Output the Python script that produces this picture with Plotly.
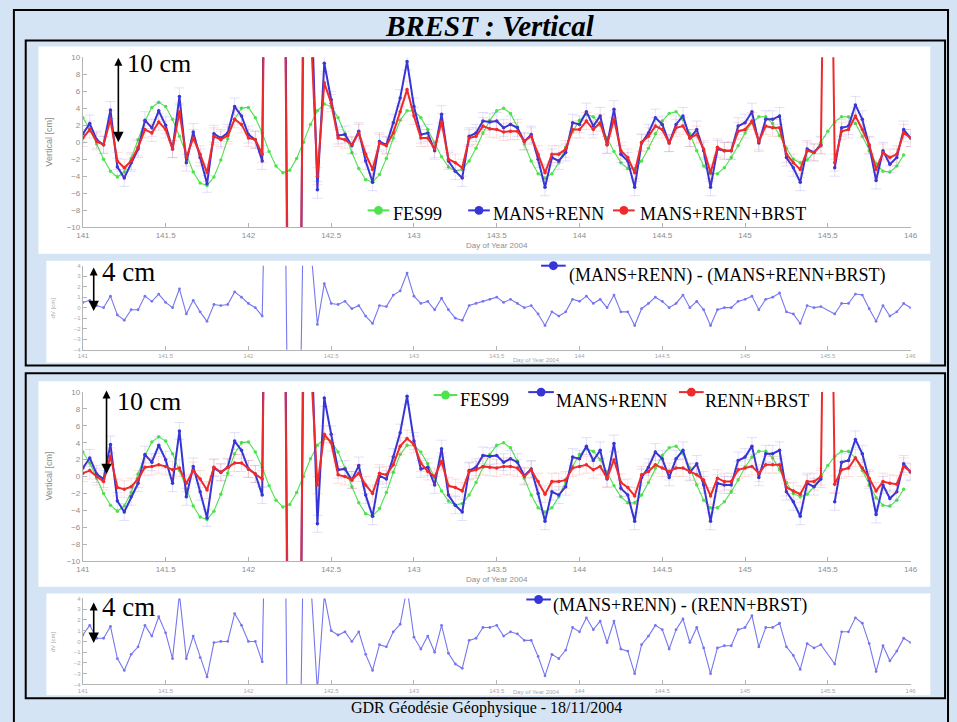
import plotly.graph_objects as go

W, H = 957, 722


def fx(px):
    return px / W


def fy(py):
    return 1 - py / H


# ---------------------------------------------------------------------------
# Hourly solutions, BREST vertical component (cm), day of year 2004
# ---------------------------------------------------------------------------
DAY0 = 141.0
HOUR = 1.0 / 24.0

fes99 = [
    2.9, 1.6, -0.2, -2.0, -3.4, -4.1, -3.5, -1.9, 0.3, 2.5,
    4.1, 4.7, 4.2, 2.7, 0.7, -1.5, -3.5, -4.8, -5.1, -4.1,
    -2.1, 0.4, 2.7, 4.0, 4.1, 2.9, 1.1, -1.1, -2.8, -3.6,
    -3.3, -1.9, 0.0, 2.1, 3.7, 4.5, 4.2, 2.9, 1.0, -1.2,
    -3.1, -4.4, -4.7, -3.8, -1.9, 0.5, 2.6, 3.7, 3.7, 2.9,
    1.5, -0.1, -1.7, -2.9, -3.4, -3.2, -2.2, -0.7, 1.1, 2.6,
    3.7, 4.0, 3.4, 1.8, -0.2, -2.2, -3.7, -4.2, -3.7, -2.4,
    -0.6, 1.2, 2.6, 3.3, 3.0, 2.0, 0.5, -1.1, -2.4, -3.1,
    -3.1, -2.2, -0.7, 1.0, 2.5, 3.4, 3.6, 2.7, 1.0, -1.0,
    -2.8, -3.7, -3.7, -3.0, -1.8, -0.4, 1.1, 2.3, 3.0, 3.0,
    2.2, 0.8, -0.7, -2.0, -2.4, -2.1, -1.2, 0.0, 1.3, 2.4,
    3.0, 3.0, 2.2, 0.7, -1.0, -2.5, -3.4, -3.5, -2.8, -1.5,
]

mans_renn = [
    1.0, 2.2, 0.3, -0.3, 3.8, -2.9, -4.2, -2.4, -0.8, 2.6,
    1.7, 3.7, 2.0, -0.8, 5.4, -2.4, 1.2, -1.8, -4.9, 1.0,
    0.5, 1.1, 4.2, 3.1, 0.9, 0.3, -2.2, 90, 80, 70,
    -70, -90, 25, 20, -5.6, 9.3, 5.0, 0.8, 0.9, -0.4,
    1.3, -2.2, -4.7, 0.1, -0.3, 2.3, 5.2, 9.5, 4.2, 0.9,
    1.1, -1.0, 3.3, -2.2, -3.4, -4.2, 0.7, 1.1, 2.5, 2.4,
    2.5, 1.7, 2.1, 1.7, 0.1, 0.9, -2.0, -5.3, -1.8, -2.2,
    -1.2, 2.3, 2.1, 3.6, 1.9, 3.1, -0.3, 3.9, -1.4, -2.2,
    -5.3, -0.1, 1.1, 2.9, 2.1, -0.1, 2.1, 3.1, 0.5, 1.5,
    -1.0, -5.3, -0.8, -1.0, -1.0, 1.9, 2.3, 3.6, -0.1, 2.7,
    2.7, 3.1, -1.8, -3.0, -4.7, -0.8, -1.2, -0.3, None, -3.0,
    1.7, 1.9, 4.4, 2.7, -0.4, -4.5, -1.0, -2.6, -1.8, 1.5,
    0.5,
]

mans_renn_brst = [
    0.5, 1.5, 0.1, -0.3, 2.7, -2.2, -3.0, -2.2, -0.6, 1.5,
    1.1, 2.4, 1.5, -0.8, 3.6, -1.8, 0.5, -1.4, -3.6, 0.7,
    0.3, 0.8, 2.7, 2.1, 0.5, 0.3, -1.4, 60, 50, 40,
    -40, -60, 15, 14, -4.0, 7.0, 4.6, 0.5, 0.3, -0.3,
    1.1, -1.4, -3.2, -0.1, -0.4, 1.1, 3.6, 6.2, 3.1, 0.5,
    0.5, -0.8, 2.4, -2.0, -2.4, -3.0, 0.5, 0.7, 1.9, 1.6,
    1.5, 1.2, 1.3, 1.3, 0.1, 0.7, -1.4, -3.6, -1.4, -1.4,
    -0.8, 1.5, 1.5, 2.5, 1.5, 2.3, -0.3, 2.7, -1.0, -1.8,
    -3.6, 0.0, 0.7, 1.9, 1.5, -0.1, 1.7, 1.9, 0.5, 0.9,
    -0.8, -3.6, -0.6, -1.0, -1.0, 1.3, 1.5, 2.5, 0.1, 1.9,
    1.7, 1.7, -1.4, -2.4, -3.2, -1.0, -1.2, -0.4, 60, -2.4,
    1.3, 1.5, 3.1, 1.5, -0.3, -3.2, -1.2, -1.8, -1.4, 1.1,
    0.5,
]

renn_brst = [
    0.4, 0.7, 0.0, -0.6, 2.4, -1.3, -1.5, -1.2, -0.3, 1.1,
    1.2, 1.4, 1.2, 0.8, 1.0, -0.8, 0.7, -0.3, -1.6, 1.1,
    0.5, 1.1, 1.6, 1.6, 0.9, 0.3, -0.3, 60, 50, 40,
    -40, -60, 15, 14, -1.0, 5.0, 4.0, 0.2, 0.0, -0.4,
    0.4, -1.0, -2.0, 0.4, 0.2, 1.4, 3.6, 4.5, 3.8, 1.6,
    0.6, 0.0, 1.8, -1.1, -1.3, -1.7, 0.6, 0.8, 1.2, 1.1,
    1.0, 1.2, 1.2, 1.0, 0.0, 0.8, -0.6, -2.1, -0.6, -0.6,
    -0.4, 1.0, 1.2, 1.4, 0.8, 1.2, -0.2, 2.0, -0.7, -1.3,
    -2.3, 0.2, 0.6, 1.4, 1.0, 0.6, 1.0, 1.0, 0.6, 0.2,
    -0.4, -2.3, -0.2, -0.6, -0.6, 0.8, 1.0, 1.2, 0.4, 1.4,
    1.4, 1.4, -1.3, -1.7, -2.1, -0.6, -0.6, 0.0, 60, -0.9,
    0.8, 1.0, 2.2, 1.0, -0.2, -1.7, -0.6, -0.8, -0.9, 1.2,
    0.6,
]

x_tickvals = [141, 141.5, 142, 142.5, 143, 143.5, 144, 144.5, 145, 145.5, 146]
x_ticktext = ["141", "141.5", "142", "142.5", "143", "143.5",
              "144", "144.5", "145", "145.5", "146"]
main_ytickvals = [-10, -8, -6, -4, -2, 0, 2, 4, 6, 8, 10]
diff_ytickvals = [-4, -3, -2, -1, 0, 1, 2, 3, 4]


def epochs(n):
    return [DAY0 + k * HOUR for k in range(n)]


def difference(a, b):
    return [None if (u is None or v is None) else u - v for u, v in zip(a, b)]


diff_mr_mrb = difference(mans_renn, mans_renn_brst)
diff_mr_rb = difference(mans_renn, renn_brst)

GREEN = "#4fe24f"
BLUE = "#3535d8"
RED = "#f02a2a"
DIFF = "#7676f0"

fig = go.Figure()


def series(xa, ya, values, color, width, msize, err_rgba=None, gaps=False):
    tr = dict(
        x=epochs(len(values)), y=values, xaxis=xa, yaxis=ya,
        mode="lines+markers",
        line=dict(color=color, width=width),
        marker=dict(color=color, size=msize),
        connectgaps=gaps,
        showlegend=False, hoverinfo="skip",
    )
    if err_rgba:
        tr["error_y"] = dict(type="constant", value=1.0, color=err_rgba,
                             thickness=0.7, width=5)
    fig.add_trace(go.Scatter(**tr))


BLUE_ERR = "rgba(80,80,230,0.25)"
RED_ERR = "rgba(240,70,70,0.25)"

# upper block: MANS+RENN vs MANS+RENN+BRST
series("x", "y", fes99, GREEN, 1.1, 3.5)
series("x", "y", mans_renn, BLUE, 2.0, 3.5, BLUE_ERR)
series("x", "y", mans_renn_brst, RED, 2.0, 3.5, RED_ERR)
series("x2", "y2", diff_mr_mrb, DIFF, 1.1, 2.8, gaps=True)

# lower block: MANS+RENN vs RENN+BRST
series("x3", "y3", fes99, GREEN, 1.1, 3.5)
series("x3", "y3", mans_renn, BLUE, 2.0, 3.5, BLUE_ERR)
series("x3", "y3", renn_brst, RED, 2.0, 3.5, RED_ERR)
series("x4", "y4", diff_mr_rb, DIFF, 1.1, 2.8, gaps=True)

AX = "#b4b4b4"
TICK = "#8e8e8e"
TICK_SMALL = "#a8a8a8"


def xaxis_cfg(anchor, fsize, fcolor):
    return dict(domain=[fx(77), fx(917)], anchor=anchor, range=[141, 146],
                tickvals=x_tickvals, ticktext=x_ticktext,
                showline=True, linecolor=AX, linewidth=1,
                ticks="inside", ticklen=4, tickcolor=AX,
                tickfont=dict(family="Liberation Sans", size=fsize, color=fcolor),
                showgrid=False, zeroline=False, fixedrange=True)


def yaxis_cfg(anchor, top, bottom, rng, vals, fsize, fcolor):
    return dict(domain=[fy(bottom), fy(top)], anchor=anchor, range=rng,
                tickvals=vals, showline=True, linecolor=AX, linewidth=1,
                ticks="inside", ticklen=4, tickcolor=AX,
                tickfont=dict(family="Liberation Sans", size=fsize, color=fcolor),
                showgrid=False, zeroline=False, fixedrange=True)


shapes = []
annotations = []

# page frames and white plotting panels
shapes.append(dict(type="rect", xref="paper", yref="paper",
                   x0=fx(7), x1=fx(955), y0=fy(728), y1=fy(6),
                   line=dict(color="black", width=2), layer="below"))
for (x0, y0, x1, y1) in [(32, 43, 937, 253), (40, 260, 937, 363),
                         (32, 382, 937, 590), (40, 597, 937, 700)]:
    shapes.append(dict(type="rect", xref="paper", yref="paper",
                       x0=fx(x0), x1=fx(x1), y0=fy(y1), y1=fy(y0),
                       fillcolor="white", line=dict(width=0), layer="below"))
for (y0, y1) in [(37, 366), (374, 703)]:
    shapes.append(dict(type="rect", xref="paper", yref="paper",
                       x0=fx(19), x1=fx(952), y0=fy(y1), y1=fy(y0),
                       line=dict(color="black", width=2), layer="below"))

SERIF = "Liberation Serif"


def legend_entry(lx0, lx1, ly, color, tx, ty, text):
    shapes.append(dict(type="line", xref="paper", yref="paper",
                       x0=fx(lx0), x1=fx(lx1), y0=fy(ly), y1=fy(ly),
                       line=dict(color=color, width=2)))
    cx = (lx0 + lx1) / 2
    r = 4.5
    shapes.append(dict(type="circle", xref="paper", yref="paper",
                       x0=fx(cx - r), x1=fx(cx + r), y0=fy(ly + r), y1=fy(ly - r),
                       fillcolor=color, line=dict(color=color, width=0)))
    annotations.append(dict(xref="paper", yref="paper", x=fx(tx), y=fy(ty),
                            xanchor="left", yanchor="middle", showarrow=False,
                            text=text, font=dict(family=SERIF, size=18, color="black")))


legend_entry(366, 388, 209, GREEN, 390, 213, "FES99")
legend_entry(468, 490, 209, BLUE, 491, 213, "MANS+RENN")
legend_entry(615, 637, 209, RED, 640, 213, "MANS+RENN+BRST")
legend_entry(542, 567, 265, BLUE, 568, 275, "(MANS+RENN) - (MANS+RENN+BRST)")
legend_entry(433, 457, 396, GREEN, 458, 401, "FES99")
legend_entry(529, 555, 393, BLUE, 555, 402, "MANS+RENN")
legend_entry(682, 707, 393, RED, 706, 402, "RENN+BRST")
legend_entry(527, 552, 603, BLUE, 552, 609, "(MANS+RENN) - (RENN+BRST)")

# title and footer
annotations.append(dict(xref="paper", yref="paper", x=fx(490), y=fy(22),
                        xanchor="center", yanchor="middle", showarrow=False,
                        text="<b><i>BREST : Vertical</i></b>",
                        font=dict(family=SERIF, size=29, color="black")))
annotations.append(dict(xref="paper", yref="paper", x=fx(487), y=fy(713),
                        xanchor="center", yanchor="middle", showarrow=False,
                        text="GDR Géodésie Géophysique - 18/11/2004",
                        font=dict(family=SERIF, size=16, color="black")))

# scale arrows
for (x, yhead, length, tx, ty, label, size) in [
        (113, 140, 86, 120, 60, "10 cm", 26),
        (101, 476, 85, 110, 403, "10 cm", 26),
        (88, 311, 45, 94, 271, "4 cm", 27),
        (88, 647, 42, 94, 611, "4 cm", 27)]:
    annotations.append(dict(xref="paper", yref="paper", x=fx(x), y=fy(yhead),
                            ax=0, ay=-length, text="", showarrow=True,
                            arrowhead=2, arrowsize=1.3, startarrowhead=2,
                            startarrowsize=1.0, arrowside="end+start",
                            arrowwidth=1.6, arrowcolor="black"))
    annotations.append(dict(xref="paper", yref="paper", x=fx(tx), y=fy(ty),
                            xanchor="left", yanchor="middle", showarrow=False,
                            text=label, font=dict(family=SERIF, size=size, color="black")))

# axis titles
for (x, y, text, angle, size, color) in [
        (43, 140, "Vertical [cm]", -90, 9, TICK),
        (497, 245, "Day of Year 2004", 0, 8, TICK),
        (47, 308, "dV [cm]", -90, 6, TICK_SMALL),
        (537, 360, "Day of Year 2004", 0, 6, TICK_SMALL),
        (43, 478, "Vertical [cm]", -90, 9, TICK),
        (497, 583, "Day of Year 2004", 0, 8, TICK),
        (47, 646, "dV [cm]", -90, 6, TICK_SMALL),
        (537, 697, "Day of Year 2004", 0, 6, TICK_SMALL)]:
    annotations.append(dict(xref="paper", yref="paper", x=fx(x), y=fy(y),
                            xanchor="center", yanchor="middle", showarrow=False,
                            textangle=angle, text=text,
                            font=dict(family="Liberation Sans", size=size, color=color)))

fig.update_layout(
    width=W, height=H, autosize=False,
    margin=dict(l=0, r=0, t=0, b=0),
    paper_bgcolor="#d5e4f4", plot_bgcolor="rgba(0,0,0,0)",
    showlegend=False,
    xaxis=xaxis_cfg("y", 8, TICK),
    yaxis=yaxis_cfg("x", 54, 226, [-10, 10], main_ytickvals, 8, TICK),
    xaxis2=xaxis_cfg("y2", 6, TICK_SMALL),
    yaxis2=yaxis_cfg("x2", 265, 350, [-4, 4], diff_ytickvals, 6, TICK_SMALL),
    xaxis3=xaxis_cfg("y3", 8, TICK),
    yaxis3=yaxis_cfg("x3", 393, 564, [-10, 10], main_ytickvals, 8, TICK),
    xaxis4=xaxis_cfg("y4", 6, TICK_SMALL),
    yaxis4=yaxis_cfg("x4", 602, 689, [-4, 4], diff_ytickvals, 6, TICK_SMALL),
    shapes=shapes, annotations=annotations,
)

fig.write_html("out.html")
